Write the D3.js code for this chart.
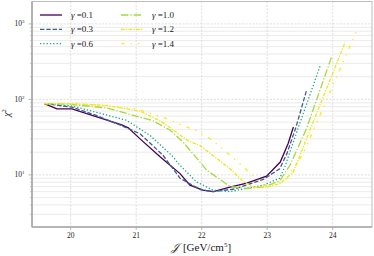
<!DOCTYPE html>
<html>
<head>
<meta charset="utf-8">
<script src="https://cdn.jsdelivr.net/npm/d3@7"></script>
<style>
  body { margin: 0; background: #fff; }
  text { font-family: "Liberation Serif", "DejaVu Serif", serif; fill: #222; }
</style>
</head>
<body>
<div id="ChartContainer"></div>
<script>
// gamma values, one curve each
var gammas = ["0.1", "0.3", "0.6", "1.0", "1.2", "1.4"]

var j01 = [19.6, 19.79, 20.02, 20.78, 20.88, 21.06, 21.36, 21.67, 21.82, 22.02, 22.18, 22.43, 22.69, 22.99, 23.2, 23.32, 23.4]
var c01 = [88, 75, 75, 46, 42, 30, 17.5, 10.4, 7.3, 6.3, 6.0, 6.9, 7.8, 9.6, 14.8, 26, 43]

var j03 = [19.6, 20.02, 20.4, 20.8, 21.06, 21.41, 21.67, 21.98, 22.17, 22.5, 22.94, 23.19, 23.3, 23.44, 23.6]
var c03 = [88, 79, 61, 44, 35, 18.2, 9.0, 6.4, 6.0, 6.5, 8.7, 12, 19, 43, 131]

var j06 = [19.6, 20.0, 20.09, 20.85, 21.21, 21.54, 21.67, 21.92, 22.17, 22.43, 22.94, 23.19, 23.27, 23.47, 23.81]
var c06 = [88, 82, 79, 53, 33.4, 18.2, 13.4, 8.1, 6.3, 6.0, 7.3, 9.0, 12.8, 41, 281]

var j10 = [19.6, 20.0, 20.55, 21.06, 21.26, 21.52, 21.72, 22.08, 22.33, 22.43, 22.69, 22.94, 23.19, 23.35, 23.6, 23.98]
var c10 = [88, 86, 77, 58, 52, 39, 27, 11.5, 8.1, 7.0, 6.6, 6.9, 8.3, 13.5, 41, 360]

var j12 = [19.6, 20.0, 20.55, 21.06, 21.4, 21.8, 21.97, 22.2, 22.43, 22.64, 22.79, 22.99, 23.2, 23.4, 23.68, 24.19]
var c12 = [88, 88, 83, 70, 50, 28, 24.7, 17.3, 12.1, 8.1, 6.9, 6.9, 7.7, 11, 45, 571]

var j14 = [19.6, 20.3, 21.0, 21.47, 21.69, 21.9, 22.13, 22.25, 22.43, 22.61, 22.74, 22.94, 23.15, 23.3, 23.55, 24.39]
var c14 = [88, 86, 75, 55.6, 46, 39, 30, 25, 18.2, 13.4, 10.4, 7.3, 7.7, 9.0, 19.2, 900]

var xTicks = [20, 21, 22, 23, 24]
var yMajor = [10, 100, 1000]
var yExp = ["1", "2", "3"]

var series = [
  {j: j01, c: c01, color: "#440154", dash: null},
  {j: j03, c: c03, color: "#3b5e8c", dash: "4.4,1.9"},
  {j: j06, c: c06, color: "#21a386", dash: "1.3,2"},
  {j: j10, c: c10, color: "#a5d93a", dash: "7.5,1.9,1.3,1.9"},
  {j: j12, c: c12, color: "#efe51e", dash: "3.6,1.3,1.3,1.3"},
  {j: j14, c: c14, color: "#fde725", dash: "3.6,6,1.3,6,1.3,6"},
]

var fullWidth = 374
var fullHeight = 256
var margin = {top: 1.5, right: 2, bottom: 29, left: 32}
var width = fullWidth - margin.left - margin.right
var height = fullHeight - margin.top - margin.bottom

var svg = d3.select("#ChartContainer").append("svg")
  .attr("width", fullWidth)
  .attr("height", fullHeight)

var x = d3.scaleLinear().domain([19.41, 24.6]).range([0, width])
var y = d3.scaleLog().domain([2.04, 1980]).range([height, 0])

var g = svg.append("g")
  .attr("transform", `translate(${margin.left},${margin.top})`)

// minor log ticks
var yMinor = []
;[1, 10, 100, 1000].forEach(d => {
  for (var k = 2; k <= 9; k++) {
    var v = d * k
    if (v > 2.04 && v < 1980) yMinor.push(v)
  }
})

// grid
g.selectAll(".minorGrid")
  .data(yMinor)
  .enter().append("line")
  .attr("x1", 0).attr("x2", width)
  .attr("y1", d => y(d)).attr("y2", d => y(d))
  .attr("stroke", "#e6e6e6")
  .attr("stroke-width", 0.8)

g.selectAll(".majorGrid")
  .data(yMajor)
  .enter().append("line")
  .attr("x1", 0).attr("x2", width)
  .attr("y1", d => y(d)).attr("y2", d => y(d))
  .attr("stroke", "#d6d6d6")
  .attr("stroke-width", 0.8)
  .attr("stroke-dasharray", "2,1.5")

g.selectAll(".xGrid")
  .data(xTicks)
  .enter().append("line")
  .attr("x1", d => x(d)).attr("x2", d => x(d))
  .attr("y1", 0).attr("y2", height)
  .attr("stroke", "#d6d6d6")
  .attr("stroke-width", 0.8)
  .attr("stroke-dasharray", "2,1.5")

// curves
var line = d3.line()
  .x(d => x(d[0]))
  .y(d => y(d[1]))

series.forEach(s => {
  g.append("path")
    .datum(d3.zip(s.j, s.c))
    .attr("fill", "none")
    .attr("stroke", s.color)
    .attr("stroke-width", 1.3)
    .attr("stroke-dasharray", s.dash)
    .attr("d", line)
})

// frame
g.append("rect")
  .attr("width", width).attr("height", height)
  .attr("fill", "none")
  .attr("stroke", "#bdbdbd")
  .attr("stroke-width", 1)
g.append("line").attr("x1", 0).attr("x2", 0).attr("y1", 0).attr("y2", height)
  .attr("stroke", "#a8a8a8").attr("stroke-width", 1.6)
g.append("line").attr("x1", 0).attr("x2", width).attr("y1", height).attr("y2", height)
  .attr("stroke", "#a8a8a8").attr("stroke-width", 1.6)

// y ticks
g.selectAll(".yMinorTick")
  .data(yMinor)
  .enter().append("line")
  .attr("x1", -2).attr("x2", 0)
  .attr("y1", d => y(d)).attr("y2", d => y(d))
  .attr("stroke", "#a8a8a8").attr("stroke-width", 0.6)
g.selectAll(".yMajorTick")
  .data(yMajor)
  .enter().append("line")
  .attr("x1", -3.5).attr("x2", 0)
  .attr("y1", d => y(d)).attr("y2", d => y(d))
  .attr("stroke", "#a8a8a8").attr("stroke-width", 0.8)

var yLab = g.selectAll(".yLab")
  .data(yMajor)
  .enter().append("text")
  .attr("x", -7.5)
  .attr("y", d => y(d) + 2.5)
  .attr("text-anchor", "end")
  .attr("font-size", 7.5)
yLab.append("tspan").text("10")
yLab.append("tspan")
  .attr("font-size", 5)
  .attr("dy", -3)
  .text((d, i) => yExp[i])

// x ticks
g.selectAll(".xTick")
  .data(xTicks)
  .enter().append("line")
  .attr("x1", d => x(d)).attr("x2", d => x(d))
  .attr("y1", height).attr("y2", height + 3)
  .attr("stroke", "#a8a8a8").attr("stroke-width", 0.8)
g.selectAll(".xLab")
  .data(xTicks)
  .enter().append("text")
  .attr("x", d => x(d))
  .attr("y", height + 10.5)
  .attr("text-anchor", "middle")
  .attr("font-size", 7.5)
  .text(d => d)

// axis labels
var xl = svg.append("text")
  .attr("x", 201)
  .attr("y", 251)
  .attr("text-anchor", "middle")
  .attr("font-size", 11)
xl.append("tspan").attr("font-style", "italic").text("𝒥")
xl.append("tspan").attr("dx", 4).text("[GeV/cm")
xl.append("tspan").attr("font-size", 7).attr("dy", -4.5).text("5")
xl.append("tspan").attr("dy", 4.5).text("]")

var yl = svg.append("text")
  .attr("transform", "translate(10,113) rotate(-90)")
  .attr("text-anchor", "middle")
  .attr("font-size", 10)
yl.append("tspan").attr("font-style", "italic").text("χ")
yl.append("tspan").attr("font-size", 6.5).attr("dy", -4).text("2")

// legend
var leg = g.selectAll(".legend")
  .data(series)
  .enter().append("g")
  .attr("transform", (d, i) => `translate(${i < 3 ? 8 : 89},${13.5 + (i % 3) * 14.3})`)
leg.append("line")
  .attr("x1", 0).attr("x2", 22)
  .attr("stroke", d => d.color)
  .attr("stroke-width", 1.3)
  .attr("stroke-dasharray", d => d.dash)
var lt = leg.append("text")
  .attr("x", 31)
  .attr("y", 3)
  .attr("font-size", 9)
lt.append("tspan").attr("font-style", "italic").text("γ")
lt.append("tspan").text((d, i) => "\u00a0=" + gammas[i])
</script>
</body>
</html>
